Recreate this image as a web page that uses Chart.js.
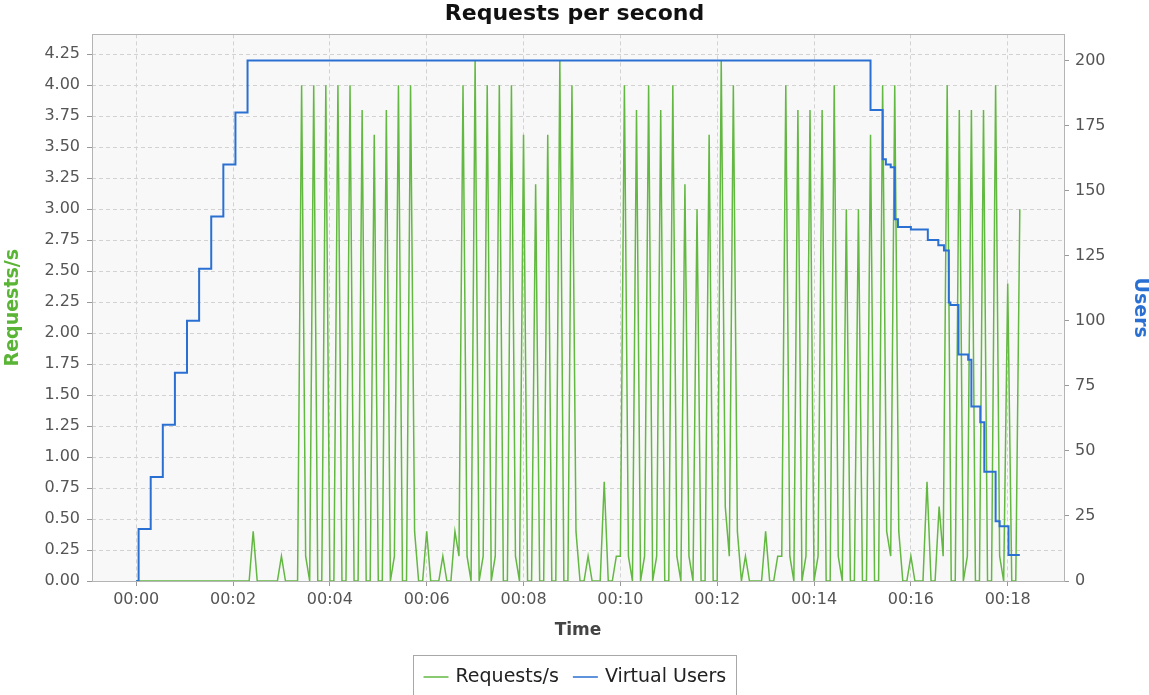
<!DOCTYPE html>
<html>
<head>
<meta charset="utf-8">
<title>Requests per second</title>
<script src="https://cdn.jsdelivr.net/npm/chart.js@4/dist/chart.umd.min.js"></script>
<style>
  html, body { margin: 0; padding: 0; background: #fff; }
  #chart { display: block; }
</style>
</head>
<body>
<canvas id="chart" width="1149" height="695"></canvas>
<script>
// request rate, one sample every 5 seconds from the start of the test
const sampleStep = 5;
const requestsPerSec = [
  0, 0, 0, 0, 0, 0, 0, 0, 0, 0, 0, 0, 0, 0, 0, 0, 0, 0, 0, 0,
  0, 0, 0, 0, 0, 0, 0, 0, 0, 0.4, 0, 0, 0, 0, 0, 0, 0.2, 0, 0, 0,
  0, 4.0, 0.2, 0, 4.0, 0, 0, 4.0, 0, 0, 4.0, 0, 0, 4.0, 0, 0, 3.8, 0, 0, 3.6,
  0, 0, 3.8, 0, 0.2, 4.0, 0, 0, 4.0, 0.4, 0, 0, 0.4, 0, 0, 0, 0.2, 0, 0, 0.4,
  0.2, 4.0, 0.2, 0, 4.2, 0, 0.2, 4.0, 0, 0.2, 4.0, 0, 0, 4.0, 0.2, 0, 3.6, 0, 0, 3.2,
  0, 0, 3.6, 0, 0, 4.2, 0, 0, 4.0, 0.4, 0, 0, 0.2, 0, 0, 0, 0.8, 0, 0, 0.2,
  0.2, 4.0, 0.2, 0, 3.8, 0, 0.2, 4.0, 0, 0.2, 3.8, 0, 0, 4.0, 0.2, 0, 3.2, 0.2, 0, 3.0,
  0, 0, 3.6, 0, 0, 4.2, 0.6, 0.2, 4.0, 0.4, 0, 0.2, 0, 0, 0, 0, 0.4, 0, 0, 0.2,
  0.2, 4.0, 0.2, 0, 3.8, 0, 0.2, 3.8, 0, 0.2, 3.8, 0, 0, 4.0, 0.2, 0, 3.0, 0, 0, 3.0,
  0, 0, 3.6, 0, 0, 4.0, 0.4, 0.2, 4.0, 0.4, 0, 0, 0.2, 0, 0, 0, 0.8, 0, 0, 0.6,
  0.2, 4.0, 0, 0, 3.8, 0, 0.2, 3.8, 0, 0, 3.8, 0, 0, 4.0, 0.2, 0, 2.4, 0, 0, 3.0
];

// active threads: time (s) at which the count changes, and the new count
const userTimes = [0, 3, 18, 33, 48, 63, 78, 93, 108, 123, 138,
  910, 925, 929, 935, 940, 944, 960, 981, 994, 1001, 1007, 1009,
  1019, 1031, 1035, 1046, 1051, 1065, 1070, 1081, 1095];
const userCounts = [0, 20, 40, 60, 80, 100, 120, 140, 160, 180, 200,
  181, 162, 160, 159, 139, 136, 135, 131, 129, 127, 107, 106,
  87, 85, 67, 61, 42, 23, 21, 10, 10];

const timeTicks = [0, 120, 240, 360, 480, 600, 720, 840, 960, 1080];
const rateTicks = [0, 0.25, 0.5, 0.75, 1, 1.25, 1.5, 1.75, 2, 2.25, 2.5, 2.75, 3, 3.25, 3.5, 3.75, 4, 4.25];
const userTicks = [0, 25, 50, 75, 100, 125, 150, 175, 200];

const GREEN = '#62b840';
const BLUE = '#2a70d2';
const FONT = '"DejaVu Sans", sans-serif';

Chart.defaults.font.family = FONT;

const hhmm = s => {
  const m = Math.round(s / 60);
  return String(Math.floor(m / 60)).padStart(2, '0') + ':' + String(m % 60).padStart(2, '0');
};

// data span with 5% margins either side, like the old JMeter graphs
const tEnd = (requestsPerSec.length - 1) * sampleStep;
const xMargin = tEnd * 0.05;

const plotFrame = {
  id: 'plotFrame',
  beforeDraw(chart) {
    const { ctx, chartArea: a } = chart;
    ctx.save();
    ctx.fillStyle = '#f8f8f8';
    ctx.fillRect(a.left, a.top, a.right - a.left, a.bottom - a.top);
    ctx.restore();
  },
  afterDatasetsDraw(chart) {
    const { ctx, chartArea: a } = chart;
    ctx.save();
    ctx.strokeStyle = '#b4b4b4';
    ctx.lineWidth = 1;
    ctx.strokeRect(Math.round(a.left) + 0.5, Math.round(a.top) + 0.5,
      Math.round(a.right - a.left), Math.round(a.bottom - a.top));
    ctx.restore();
  }
};

const legendBox = {
  id: 'legendBox',
  afterDraw(chart) {
    const ctx = chart.ctx;
    ctx.save();
    ctx.font = '19px ' + FONT;
    const items = chart.data.datasets.map(ds => ({
      label: ds.label, color: ds.borderColor, w: ctx.measureText(ds.label).width
    }));
    const sample = 25, gap = 7, spacing = 14, padX = 10;
    let total = padX * 2 + spacing * (items.length - 1);
    items.forEach(it => { total += sample + gap + it.w; });
    let x = Math.round(chart.width / 2 - total / 2) + 0.5;
    const top = 655.5, midY = 677;
    ctx.strokeStyle = '#a8a8a8';
    ctx.lineWidth = 1;
    ctx.strokeRect(x, top, Math.round(total), chart.height - top + 5);
    x += padX;
    ctx.textBaseline = 'middle';
    items.forEach(it => {
      ctx.strokeStyle = it.color;
      ctx.lineWidth = 1.5;
      ctx.beginPath();
      ctx.moveTo(x, midY);
      ctx.lineTo(x + sample, midY);
      ctx.stroke();
      x += sample + gap;
      ctx.fillStyle = '#222';
      ctx.fillText(it.label, x, midY);
      x += it.w + spacing;
    });
    ctx.restore();
  }
};

new Chart(document.getElementById('chart'), {
  type: 'line',
  data: {
    datasets: [
      {
        label: 'Requests/s',
        data: requestsPerSec.map((v, i) => ({ x: i * sampleStep, y: v })),
        borderColor: GREEN,
        borderWidth: 1.5,
        pointRadius: 0,
        yAxisID: 'y',
        order: 2
      },
      {
        label: 'Virtual Users',
        data: userTimes.map((t, i) => ({ x: t, y: userCounts[i] })),
        borderColor: BLUE,
        borderWidth: 2,
        pointRadius: 0,
        stepped: true,
        yAxisID: 'y1',
        order: 1
      }
    ]
  },
  options: {
    responsive: false,
    devicePixelRatio: 1,
    animation: false,
    layout: { padding: { left: 0, right: 0, top: 0, bottom: 50 } },
    plugins: {
      legend: { display: false },
      tooltip: { enabled: false },
      title: {
        display: true,
        text: 'Requests per second',
        color: '#111',
        font: { size: 22, weight: 'bold', lineHeight: 1.2 },
        padding: { top: 1, bottom: 7 }
      }
    },
    scales: {
      x: {
        type: 'linear',
        min: -xMargin,
        max: tEnd + xMargin,
        afterBuildTicks: s => { s.ticks = timeTicks.map(v => ({ value: v })); },
        afterFit: s => { s.height = 64; },
        ticks: { callback: v => hhmm(v), color: '#555', font: { size: 16 }, padding: 4, maxRotation: 0 },
        grid: { color: '#d2d2d2', tickLength: 5, tickColor: '#999', tickBorderDash: [] },
        border: { display: false, dash: [4, 3] },
        title: { display: true, text: 'Time', color: '#444', font: { size: 17, weight: 'bold', lineHeight: 1.2 }, padding: { top: 0, bottom: 4 } }
      },
      y: {
        position: 'left',
        min: 0,
        max: 4.2 * 1.05,
        afterBuildTicks: s => { s.ticks = rateTicks.map(v => ({ value: v })); },
        afterFit: s => { s.width = 92; },
        ticks: { callback: v => v.toFixed(2), color: '#555', font: { size: 16 }, padding: 7 },
        grid: { color: '#d2d2d2', tickLength: 5, tickColor: '#999', tickBorderDash: [] },
        border: { display: false, dash: [4, 3] },
        title: { display: true, text: 'Requests/s', color: '#5ab436', font: { size: 19, weight: 'bold', lineHeight: 1 }, padding: { top: 4, bottom: 0 } }
      },
      y1: {
        position: 'right',
        min: 0,
        max: 200 * 1.05,
        afterBuildTicks: s => { s.ticks = userTicks.map(v => ({ value: v })); },
        afterFit: s => { s.width = 85; },
        ticks: { color: '#555', font: { size: 16 }, padding: 6 },
        grid: { drawOnChartArea: false, tickLength: 5, tickColor: '#999' },
        border: { display: false },
        title: { display: true, text: 'Users', color: '#2a70d2', font: { size: 19, weight: 'bold', lineHeight: 1 }, padding: { top: 0, bottom: 0 } }
      }
    }
  },
  plugins: [plotFrame, legendBox]
});
</script>
</body>
</html>
